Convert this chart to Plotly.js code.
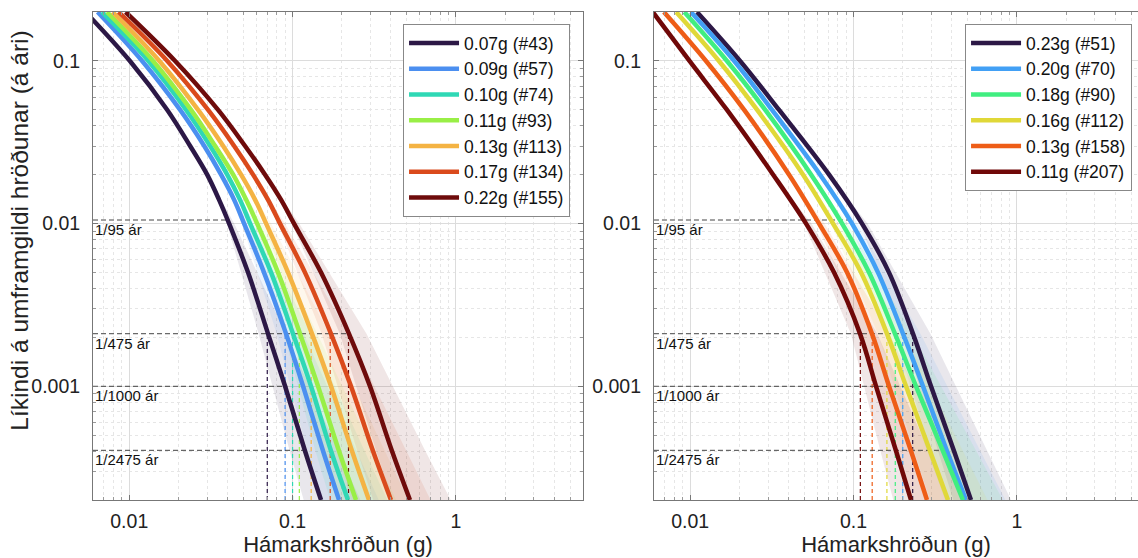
<!DOCTYPE html>
<html><head><meta charset="utf-8">
<script src="https://cdn.plot.ly/plotly-3.0.1.min.js"></script>
<style>html,body{margin:0;padding:0;background:#fff}#chart{width:1138px;height:558px}</style>
</head><body><div id="chart"></div>
<script>
// Annual probability of exceedance levels at which the curves were read
const leftProbLevels  = [0.2, 0.1, 0.05, 0.03, 0.02, 0.014, 0.01, 0.005, 0.0021, 0.001, 0.0004, 0.0002];
const rightProbLevels = [0.2, 0.1, 0.05, 0.02, 0.01, 0.005, 0.0021, 0.001, 0.0004, 0.0002];
// Levels at which the spread of the individual (thin) curves was read
const bandTopProb = 0.02;
const bandProbs = [0.01, 0.0021, 0.0004, 0.0002];

// ---- Left panel ----
const leftNames = ['0.07g (#43)', '0.09g (#57)', '0.10g (#74)', '0.11g (#93)', '0.13g (#113)', '0.17g (#134)', '0.22g (#155)'];
const leftPGA475 = [0.07, 0.09, 0.10, 0.11, 0.13, 0.17, 0.22];
const leftColors = ['#2c1846', '#4b8ff0', '#2fd8b5', '#99ef46', '#f4b343', '#da4a1c', '#6e0b0b'];
const leftCurve43  = [0.0054, 0.0101, 0.0171, 0.0236, 0.0300, 0.0355, 0.0409, 0.0534, 0.0708, 0.0900, 0.1192, 0.1494];
const leftCurve57  = [0.0064, 0.0120, 0.0205, 0.0288, 0.0365, 0.0439, 0.0505, 0.0669, 0.0913, 0.1160, 0.1537, 0.1925];
const leftCurve74  = [0.0068, 0.0131, 0.0223, 0.0313, 0.0398, 0.0477, 0.0550, 0.0739, 0.1007, 0.1297, 0.1720, 0.2185];
const leftCurve93  = [0.0073, 0.0140, 0.0239, 0.0336, 0.0433, 0.0520, 0.0607, 0.0815, 0.1112, 0.1432, 0.1925, 0.2445];
const leftCurve113 = [0.0079, 0.0153, 0.0264, 0.0376, 0.0484, 0.0590, 0.0689, 0.0939, 0.1316, 0.1720, 0.2312, 0.2937];
const leftCurve134 = [0.0086, 0.0171, 0.0304, 0.0439, 0.0573, 0.0708, 0.0838, 0.1192, 0.1720, 0.2279, 0.3108, 0.4005];
const leftCurve155 = [0.0095, 0.0191, 0.0350, 0.0512, 0.0679, 0.0851, 0.1021, 0.1494, 0.2216, 0.2979, 0.4061, 0.5233];
// spread of the thin curves: value at 0.02, then low / high at bandProbs
const leftBandTop = [0.0300, 0.0365, 0.0398, 0.0433, 0.0484, 0.0573, 0.0679];
const leftLow43  = [0.0397, 0.062, 0.096, 0.117],  leftHigh43  = [0.044, 0.091, 0.19, 0.26];
const leftLow57  = [0.049, 0.080, 0.123, 0.150],   leftHigh57  = [0.0545, 0.117, 0.246, 0.337];
const leftLow74  = [0.0534, 0.0886, 0.138, 0.170], leftHigh74  = [0.059, 0.129, 0.275, 0.38];
const leftLow93  = [0.0589, 0.0979, 0.154, 0.191], leftHigh93  = [0.066, 0.142, 0.308, 0.43];
const leftLow113 = [0.0668, 0.1158, 0.185, 0.229], leftHigh113 = [0.074, 0.168, 0.37, 0.51];
const leftLow134 = [0.0813, 0.151, 0.249, 0.312],  leftHigh134 = [0.09, 0.22, 0.50, 0.70];
const leftLow155 = [0.099, 0.195, 0.325, 0.408],   leftHigh155 = [0.11, 0.284, 0.65, 0.93];

// ---- Right panel ----
const rightNames = ['0.23g (#51)', '0.20g (#70)', '0.18g (#90)', '0.16g (#112)', '0.13g (#158)', '0.11g (#207)'];
const rightPGA475 = [0.23, 0.20, 0.18, 0.16, 0.13, 0.11];
const rightColors = ['#2c1846', '#42a0f5', '#40ee80', '#e0d838', '#ee5d17', '#700808'];
const rightCurve51  = [0.0110, 0.0202, 0.0350, 0.0708, 0.1127, 0.1649, 0.2312, 0.2979, 0.4118, 0.5233];
const rightCurve70  = [0.0101, 0.0186, 0.0317, 0.0624, 0.0979, 0.1412, 0.2008, 0.2661, 0.3731, 0.4877];
const rightCurve90  = [0.0092, 0.0168, 0.0288, 0.0550, 0.0851, 0.1244, 0.1794, 0.2412, 0.3527, 0.4673];
const rightCurve112 = [0.0082, 0.0150, 0.0257, 0.0491, 0.0749, 0.1112, 0.1603, 0.2095, 0.2937, 0.3784];
const rightCurve158 = [0.0069, 0.0125, 0.0214, 0.0403, 0.0615, 0.0913, 0.1297, 0.1649, 0.2247, 0.2814];
const rightCurve207 = [0.0059, 0.0099, 0.0168, 0.0322, 0.0512, 0.0760, 0.1096, 0.1373, 0.1820, 0.2247];
const rightBandTop = [0.0708, 0.0624, 0.0550, 0.0491, 0.0403, 0.0322];
const rightLow51  = [0.109, 0.203, 0.329, 0.408],   rightHigh51  = [0.122, 0.296, 0.66, 0.92];
const rightLow70  = [0.095, 0.177, 0.298, 0.38],    rightHigh70  = [0.106, 0.257, 0.6, 0.85];
const rightLow90  = [0.0825, 0.158, 0.282, 0.364],  rightHigh90  = [0.092, 0.23, 0.56, 0.82];
const rightLow112 = [0.0727, 0.141, 0.235, 0.295],  rightHigh112 = [0.081, 0.205, 0.47, 0.66];
const rightLow158 = [0.0597, 0.114, 0.18, 0.219],   rightHigh158 = [0.0665, 0.166, 0.36, 0.49];
const rightLow207 = [0.0497, 0.0964, 0.146, 0.175], rightHigh207 = [0.0553, 0.14, 0.29, 0.39];

// Return period reference lines
const returnProbs = [1/95, 1/475, 1/1000, 1/2475];
const returnLabels = ['1/95 ár', '1/475 ár', '1/1000 ár', '1/2475 ár'];
const leftLineEnds = [0.041, 0.22, 0.093, 0.123];
const rightLineEnds = [0.097, 0.235, 0.278, 0.348];

// Axis ticks
const xTickVals = [0.01, 0.1, 1], xTickText = ['0.01', '0.1', '1'];
const yTickVals = [0.001, 0.01, 0.1], yTickText = ['0.001', '0.01', '0.1'];
const xMinor = [0.007, 0.008, 0.009, 0.02, 0.03, 0.04, 0.05, 0.06, 0.07, 0.08, 0.09, 0.2, 0.3, 0.4, 0.5, 0.6, 0.7, 0.8, 0.9, 2, 3, 4, 5];
const yMinor = [0.0003, 0.0004, 0.0005, 0.0006, 0.0007, 0.0008, 0.0009, 0.002, 0.003, 0.004, 0.005, 0.006, 0.007, 0.008, 0.009, 0.02, 0.03, 0.04, 0.05, 0.06, 0.07, 0.08, 0.09];

const leftCurves = [leftCurve43, leftCurve57, leftCurve74, leftCurve93, leftCurve113, leftCurve134, leftCurve155];
const leftLows = [leftLow43, leftLow57, leftLow74, leftLow93, leftLow113, leftLow134, leftLow155];
const leftHighs = [leftHigh43, leftHigh57, leftHigh74, leftHigh93, leftHigh113, leftHigh134, leftHigh155];
const rightCurves = [rightCurve51, rightCurve70, rightCurve90, rightCurve112, rightCurve158, rightCurve207];
const rightLows = [rightLow51, rightLow70, rightLow90, rightLow112, rightLow158, rightLow207];
const rightHighs = [rightHigh51, rightHigh70, rightHigh90, rightHigh112, rightHigh158, rightHigh207];

function rgba(hex, a) {
  const n = parseInt(hex.slice(1), 16);
  return 'rgba(' + (n >> 16) + ',' + ((n >> 8) & 255) + ',' + (n & 255) + ',' + a + ')';
}

const bands = [], dashes = [], curves = [];
function addPanel(curvesArr, probs, bandTop, lows, highs, names, pga, colors, lineEnds, xa, ya, legendId) {
  curvesArr.forEach((c, i) => {
    const bx = [bandTop[i]].concat(highs[i]).concat(lows[i].slice().reverse()).concat([bandTop[i]]);
    const by = [bandTopProb].concat(bandProbs).concat(bandProbs.slice().reverse()).concat([bandTopProb]);
    bands.push({x: bx, y: by, xaxis: xa, yaxis: ya, mode: 'lines', fill: 'toself',
      fillcolor: rgba(colors[i], 0.1), line: {width: 0}, showlegend: false, hoverinfo: 'skip'});
    dashes.push({x: [pga[i], pga[i]], y: [0.0002, returnProbs[1]], xaxis: xa, yaxis: ya, mode: 'lines',
      line: {color: colors[i], width: 1.2, dash: '4px,3px'}, showlegend: false, hoverinfo: 'skip'});
    curves.push({x: c, y: probs, xaxis: xa, yaxis: ya, mode: 'lines', name: names[i],
      line: {color: colors[i], width: 4.5, shape: 'spline', smoothing: 1}, legend: legendId});
  });
  returnProbs.forEach((p, k) => {
    dashes.push({x: [0.006, lineEnds[k]], y: [p, p], xaxis: xa, yaxis: ya, mode: 'lines',
      line: {color: '#444', width: 1, dash: '5px,3px'}, showlegend: false, hoverinfo: 'skip'});
  });
}
addPanel(leftCurves, leftProbLevels, leftBandTop, leftLows, leftHighs, leftNames, leftPGA475, leftColors, leftLineEnds, 'x', 'y', 'legend');
addPanel(rightCurves, rightProbLevels, rightBandTop, rightLows, rightHighs, rightNames, rightPGA475, rightColors, rightLineEnds, 'x2', 'y2', 'legend2');

const annotations = [];
returnProbs.forEach((p, k) => {
  ['x', 'x2'].forEach((xr, j) => {
    annotations.push({xref: xr, yref: j ? 'y2' : 'y', x: Math.log10(0.006), y: Math.log10(p),
      xanchor: 'left', yanchor: 'top', showarrow: false, text: returnLabels[k],
      font: {size: 15, color: '#111'}, borderpad: 0, xshift: 1});
  });
});
// y-axis title (placed as in the reference, slightly above the panel centre)
annotations.push({xref: 'paper', yref: 'paper', x: -0.0703, y: 0.551, xanchor: 'center', yanchor: 'middle',
  textangle: -90, showarrow: false, text: 'Líkindi á umframgildi hröðunar (á ári)', font: {size: 24.5, color: '#222'}});

const FONT = 'Liberation Sans, Arial, Helvetica, sans-serif';
function xAxis(domain, range, anchor, mirror) {
  return {type: 'log', domain: domain, range: range, anchor: anchor,
    tickmode: 'array', tickvals: xTickVals, ticktext: xTickText,
    ticks: 'inside', ticklen: 5, tickcolor: '#777', showline: true, linecolor: '#777', linewidth: 1,
    mirror: mirror, showgrid: true, gridcolor: '#dcdcdc', gridwidth: 1, zeroline: false,
    minor: {tickmode: 'array', tickvals: xMinor, ticks: 'inside', ticklen: 3, tickcolor: '#999',
      showgrid: true, gridcolor: '#e6e6e6', griddash: 'dot', gridwidth: 1},
    tickfont: {size: 19.5, color: '#222'}, ticklabelstandoff: 4,
    title: {text: 'Hámarkshröðun (g)', font: {size: 22, color: '#222'}, standoff: 2}};
}
function yAxis(anchor, mirror) {
  return {type: 'log', domain: [0, 1], range: [Math.log10(0.0002), Math.log10(0.2)], anchor: anchor,
    tickmode: 'array', tickvals: yTickVals, ticktext: yTickText,
    ticks: 'inside', ticklen: 5, tickcolor: '#777', showline: true, linecolor: '#777', linewidth: 1,
    mirror: mirror, showgrid: true, gridcolor: '#dcdcdc', gridwidth: 1, zeroline: false,
    minor: {tickmode: 'array', tickvals: yMinor, ticks: 'inside', ticklen: 3, tickcolor: '#999',
      showgrid: true, gridcolor: '#e6e6e6', griddash: 'dot', gridwidth: 1},
    tickfont: {size: 19.5, color: '#222'}, ticklabelstandoff: 8};
}
const legendBase = {xanchor: 'right', yanchor: 'top', bordercolor: '#888', borderwidth: 1, bgcolor: '#fff',
  font: {size: 17.5, color: '#111'}, itemwidth: 50, tracegroupgap: 0, itemclick: false};

const layout = {
  width: 1138, height: 558, margin: {l: 93, r: 0, t: 12, b: 58},
  paper_bgcolor: '#fff', plot_bgcolor: '#fff', font: {family: FONT, color: '#222'},
  xaxis: xAxis([0, 0.4689], [Math.log10(0.006), Math.log10(6)], 'y', 'ticks'),
  yaxis: yAxis('x', 'ticks'),
  xaxis2: xAxis([0.5368, 1], [Math.log10(0.006), 0.741], 'y2', 'ticks'),
  yaxis2: yAxis('x2', false),
  legend: Object.assign({x: 0.4565, y: 0.9754}, legendBase),
  legend2: Object.assign({x: 0.9943, y: 0.9754}, legendBase),
  annotations: annotations, hovermode: false
};
Plotly.newPlot('chart', bands.concat(dashes).concat(curves), layout, {staticPlot: true, displayModeBar: false});
</script></body></html>
